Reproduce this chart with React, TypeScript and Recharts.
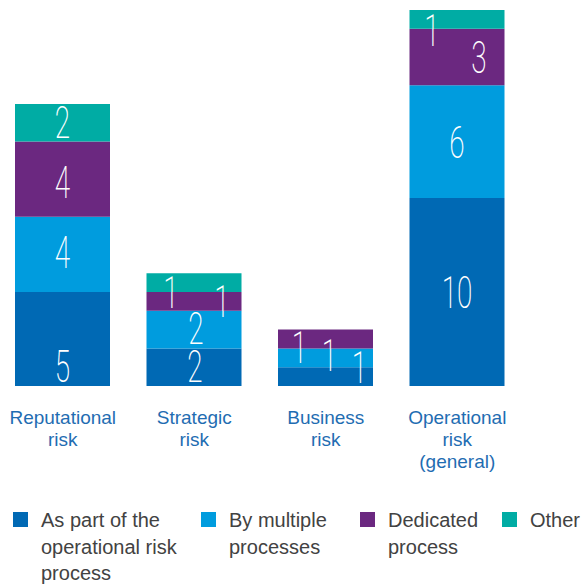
import { BarChart, Bar, XAxis, YAxis, LabelList } from 'recharts'

const categories = ['Reputational risk', 'Strategic risk', 'Business risk', 'Operational risk (general)']
const asPartOfOpRisk = [5, 2, 1, 10]
const byMultiple = [4, 2, 1, 6]
const dedicated = [4, 1, 1, 3]
const other = [2, 1, 0, 1]

const series = [
  { key: 'opRisk', name: 'As part of the operational risk process', color: '#0069b4', values: asPartOfOpRisk },
  { key: 'multiple', name: 'By multiple processes', color: '#009cde', values: byMultiple },
  { key: 'dedicated', name: 'Dedicated process', color: '#6b2880', values: dedicated },
  { key: 'other', name: 'Other', color: '#00aca4', values: other },
]

// label nudges (dx, dy) so the numbers in thin segments don't collide
const nudge: Record<string, [number, number][]> = {
  opRisk:    [[0, 27], [1, -1], [34, -10], [0, 0]],
  multiple:  [[0, -2], [2, -2], [4, -3], [0, 0]],
  dedicated: [[0, 3], [28, 0], [-26, 8], [22, 0]],
  other:     [[0, -1], [-23, 9], [0, 0], [-25, 11]],
}

const data = categories.map((category, i) => {
  const row: Record<string, string | number> = { category }
  series.forEach(s => { row[s.key] = s.values[i] })
  return row
})

if (typeof document !== 'undefined') document.body.style.margin = '0'

// LabelList is fed the category so zero-height segments don't shift the index
const valueLabel = (s: typeof series[number]) => (props: any) => {
  const { x, y, width, height, value } = props
  const idx = categories.indexOf(String(value))
  const v = s.values[idx]
  if (!v) return null
  const [dx, dy] = nudge[s.key][idx] ?? [0, 0]
  const cx = Number(x) + Number(width) / 2 + dx
  const cy = Number(y) + Number(height) / 2 + dy
  return (
    <text
      transform={`translate(${cx},${cy + 16}) scale(0.62,1)`}
      textAnchor="middle"
      fill="#fff"
      fontSize={45}
      fontWeight={200}
      fontFamily="Roboto, 'Liberation Sans', sans-serif"
    >
      {v}
    </text>
  )
}

function CategoryTick({ x, y, payload }: any) {
  const words = String(payload.value).split(' ')
  return (
    <g transform={`translate(${x},${y})`}>
      <text textAnchor="middle" fill="#1f6db2" fontSize={19} fontFamily="'Liberation Sans', Arial, sans-serif">
        {words.map((w, i) => (
          <tspan key={i} x={0} y={38 + i * 22}>{w}</tspan>
        ))}
      </text>
    </g>
  )
}

const legendWidths = [188, 159, 142, 70]

export default function App() {
  return (
    <div style={{ position: 'relative', width: 585, height: 584, overflow: 'hidden', background: '#fff' }}>
      <div style={{ position: 'absolute', left: -3, top: 0 }}>
        <BarChart width={540} height={584} data={data} margin={{ top: 10, right: 14, left: 0, bottom: 138 }}>
          <XAxis
            dataKey="category"
            axisLine={false}
            tickLine={false}
            tickSize={0}
            tickMargin={0}
            interval={0}
            height={60}
            tick={<CategoryTick />}
          />
          <YAxis hide domain={[0, 20]} />
          {series.map(s => (
            <Bar key={s.key} dataKey={s.key} name={s.name} stackId="s" fill={s.color} barSize={95} isAnimationActive={false}>
              <LabelList dataKey="category" content={valueLabel(s)} />
            </Bar>
          ))}
        </BarChart>
      </div>
      <div
        style={{
          position: 'absolute', left: 13, top: 507, display: 'flex',
          fontFamily: "'Liberation Sans', Arial, sans-serif", fontSize: 20, lineHeight: '26.5px', color: '#424242',
        }}
      >
        {series.map((s, i) => (
          <div key={s.key} style={{ display: 'flex', width: legendWidths[i], flexShrink: 0 }}>
            <div style={{ width: 15, height: 15, marginTop: 5, background: s.color, flexShrink: 0 }} />
            <div style={{ marginLeft: 13, width: legendWidths[i] - 28 - 12, whiteSpace: i === 3 ? 'nowrap' : 'normal' }}>
              {s.name}
            </div>
          </div>
        ))}
      </div>
    </div>
  )
}
